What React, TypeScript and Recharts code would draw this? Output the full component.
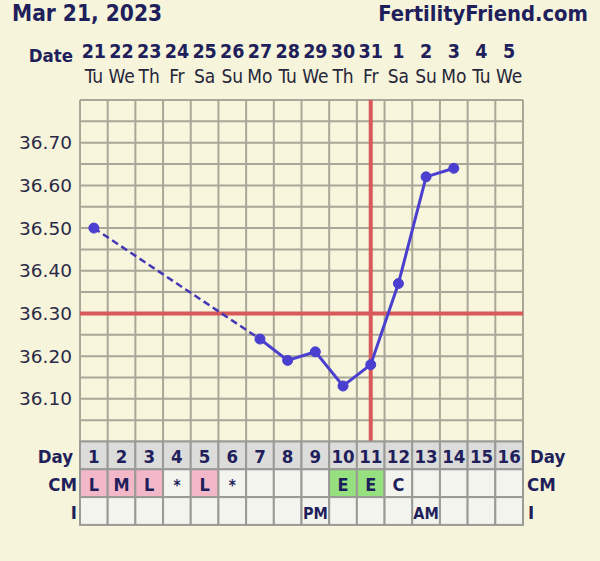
import React from 'react';
import { ComposedChart, Line, XAxis, YAxis, CartesianGrid, ReferenceLine } from 'recharts';

// ---------- data ----------
const days = [1, 2, 3, 4, 5, 6, 7, 8, 9, 10, 11, 12, 13, 14, 15, 16];
const dateNumbers = ['21', '22', '23', '24', '25', '26', '27', '28', '29', '30', '31', '1', '2', '3', '4', '5'];
const weekdays = ['Tu', 'We', 'Th', 'Fr', 'Sa', 'Su', 'Mo', 'Tu', 'We', 'Th', 'Fr', 'Sa', 'Su', 'Mo', 'Tu', 'We'];
const temps: (number | null)[] = [36.5, null, null, null, null, null, 36.24, 36.19, 36.21, 36.13, 36.18, 36.37, 36.62, 36.64, null, null];
const cmValues = ['L', 'M', 'L', '*', 'L', '*', '', '', '', 'E', 'E', 'C', '', '', '', ''];
const intercourse = ['', '', '', '', '', '', '', '', 'PM', '', '', '', 'AM', '', '', ''];
const tempTicks = [36.1, 36.2, 36.3, 36.4, 36.5, 36.6, 36.7];
const tempDomain = [36.0, 36.8];
const coverline = 36.3;
const ovulationDay = 11;
const chartTitle = 'Mar 21, 2023';
const siteName = 'FertilityFriend.com';

// ---------- derived ----------
const hasBefore = (i: number) => temps.slice(0, i).some((t) => t !== null);
const hasAfter = (i: number) => temps.slice(i + 1).some((t) => t !== null);
const dashedTemps = temps.map((t, i) => {
  if (t === null) return null;
  const gapAfter = i + 1 < temps.length && temps[i + 1] === null && hasAfter(i);
  const gapBefore = i > 0 && temps[i - 1] === null && hasBefore(i);
  return gapAfter || gapBefore ? t : null;
});
const data = days.map((d, i) => ({ day: d, temp: temps[i], dashed: dashedTemps[i] }));

const hLines: number[] = [];
for (let v = 0; v <= 16; v++) hLines.push(+(tempDomain[0] + v * 0.05).toFixed(2));
const vLines: number[] = [];
for (let v = 0; v <= 16; v++) vLines.push(v + 0.5);

// ---------- style ----------
const BG = '#f6f4da';
const NAVY = '#1f1f5c';
const GRID = '#a9a797';
const RED = '#d9585a';
const BLUE = '#4a3fcf';
const CELL = 443 / 16;
const ROW = 27.8;
const PLAIN_FONT = "'DejaVu Sans', Verdana, sans-serif";
const COND_FONT = "'DejaVu Sans Condensed', 'DejaVu Sans', sans-serif";
const NARROW_FONT = "'Liberation Sans Narrow', 'DejaVu Sans Condensed', 'Liberation Sans', sans-serif";

const cmFill = (v: string) => {
  if (v === 'L' || v === 'M') return '#f2b8c8';
  if (v === 'E') return '#97e07f';
  return '#f4f4ef';
};

const TopTick = (props: any) => {
  const { x, y, payload } = props;
  const i = days.indexOf(payload.value);
  if (i < 0) return null;
  return (
    <g>
      <text x={x} y={y - 42} textAnchor="middle" fontFamily={NARROW_FONT} fontWeight="bold" fontSize={19.5} fill={NAVY}>
        {dateNumbers[i]}
      </text>
      <text x={x} y={y - 17} textAnchor="middle" fontFamily={COND_FONT} fontSize={19} fill="#26263a">
        {weekdays[i]}
      </text>
      {i === 0 && (
        <text x={x - CELL / 2 - 7} y={y - 38} textAnchor="end" fontFamily={COND_FONT} fontWeight="bold" fontSize={18.5} fill={NAVY}>
          Date
        </text>
      )}
    </g>
  );
};

const BottomTick = (props: any) => {
  const { x, y, payload } = props;
  const i = days.indexOf(payload.value);
  if (i < 0) return null;
  const left = x - CELL / 2;
  const txt = { fontFamily: COND_FONT, fontWeight: 'bold' as const, fill: NAVY };
  return (
    <g>
      <rect x={left} y={y} width={CELL} height={ROW} fill="#dcdcda" stroke="#9a9a96" strokeWidth={2} />
      <rect x={left} y={y + ROW} width={CELL} height={ROW} fill={cmFill(cmValues[i])} stroke="#9a9a96" strokeWidth={2} />
      <rect x={left} y={y + 2 * ROW} width={CELL} height={ROW} fill="#f4f4ef" stroke="#9a9a96" strokeWidth={2} />
      <text x={x} y={y + 21} textAnchor="middle" fontSize={18.5} {...txt}>
        {String(days[i])}
      </text>
      <text x={x} y={y + 49} textAnchor="middle" fontSize={cmValues[i] === '*' ? 15 : 18} {...txt}>
        {cmValues[i]}
      </text>
      <text x={x} y={y + 77} textAnchor="middle" fontSize={16} {...txt}>
        {intercourse[i]}
      </text>
      {i === 0 && (
        <g>
          <text x={left - 7} y={y + 21} textAnchor="end" fontSize={18.5} {...txt}>Day</text>
          <text x={left - 3} y={y + 49} textAnchor="end" fontSize={18.5} {...txt}>CM</text>
          <text x={left - 3} y={y + 77} textAnchor="end" fontSize={18.5} {...txt}>I</text>
        </g>
      )}
      {i === days.length - 1 && (
        <g>
          <text x={left + CELL + 7} y={y + 21} textAnchor="start" fontSize={18.5} {...txt}>Day</text>
          <text x={left + CELL + 4} y={y + 49} textAnchor="start" fontSize={18.5} {...txt}>CM</text>
          <text x={left + CELL + 5} y={y + 77} textAnchor="start" fontSize={18.5} {...txt}>I</text>
        </g>
      )}
    </g>
  );
};

export default function App() {
  return (
    <div style={{ position: 'absolute', left: 0, top: 0, width: 600, height: 561, background: BG, overflow: 'hidden' }}>
      <ComposedChart
        width={600}
        height={561}
        data={data}
        margin={{ top: 0, right: 0, bottom: 0, left: 0 }}
        style={{ fontFamily: PLAIN_FONT }}
      >
        <XAxis
          xAxisId="top"
          orientation="top"
          dataKey="day"
          type="number"
          domain={[0.5, 16.5]}
          ticks={days}
          interval={0}
          height={100}
          tickSize={0}
          tickMargin={0}
          tickLine={false}
          axisLine={false}
          tick={<TopTick />}
        />
        <XAxis
          xAxisId="bottom"
          orientation="bottom"
          dataKey="day"
          type="number"
          domain={[0.5, 16.5]}
          ticks={days}
          interval={0}
          height={119.5}
          tickSize={0}
          tickMargin={0}
          tickLine={false}
          axisLine={false}
          tick={<BottomTick />}
        />
        <YAxis
          yAxisId="left"
          orientation="left"
          type="number"
          domain={tempDomain}
          ticks={tempTicks}
          interval={0}
          width={80}
          tickSize={0}
          tickMargin={8}
          tickLine={false}
          axisLine={false}
          tickFormatter={(v: number) => v.toFixed(2)}
          tick={{ fill: '#2a2a48', fontSize: 18.5, fontFamily: PLAIN_FONT }}
        />
        <YAxis
          yAxisId="right"
          orientation="right"
          type="number"
          domain={tempDomain}
          ticks={tempTicks}
          interval={0}
          width={77}
          tickSize={0}
          tickMargin={7}
          tickLine={false}
          axisLine={false}
          tickFormatter={(v: number) => v.toFixed(2)}
          tick={{ fill: '#2a2a48', fontSize: 18.5, fontFamily: PLAIN_FONT }}
        />
        <CartesianGrid
          xAxisId="bottom"
          yAxisId="left"
          stroke={GRID}
          strokeWidth={2}
          horizontalValues={hLines}
          verticalValues={vLines}
          fill="#f7f5dc"
        />
        <ReferenceLine xAxisId="bottom" yAxisId="left" y={coverline} stroke={RED} strokeWidth={4} />
        <ReferenceLine xAxisId="bottom" yAxisId="left" x={ovulationDay} stroke={RED} strokeWidth={4} />
        <Line
          xAxisId="bottom"
          yAxisId="left"
          dataKey="dashed"
          connectNulls
          stroke="#4538b4"
          strokeWidth={2.5}
          strokeDasharray="7 4"
          dot={false}
          isAnimationActive={false}
        />
        <Line
          xAxisId="bottom"
          yAxisId="left"
          dataKey="temp"
          stroke={BLUE}
          strokeWidth={3}
          dot={{ r: 5, fill: BLUE, stroke: BLUE, strokeWidth: 1 }}
          isAnimationActive={false}
        />
      </ComposedChart>
      <svg width={600} height={40} style={{ position: 'absolute', left: 0, top: 0 }}>
        <text x={12} y={21} fontFamily={COND_FONT} fontWeight="bold" fontSize={22.5} fill={NAVY}>
          {chartTitle}
        </text>
        <text x={588} y={21} textAnchor="end" fontFamily={COND_FONT} fontWeight="bold" fontSize={21.8} fill={NAVY}>
          {siteName}
        </text>
      </svg>
    </div>
  );
}
